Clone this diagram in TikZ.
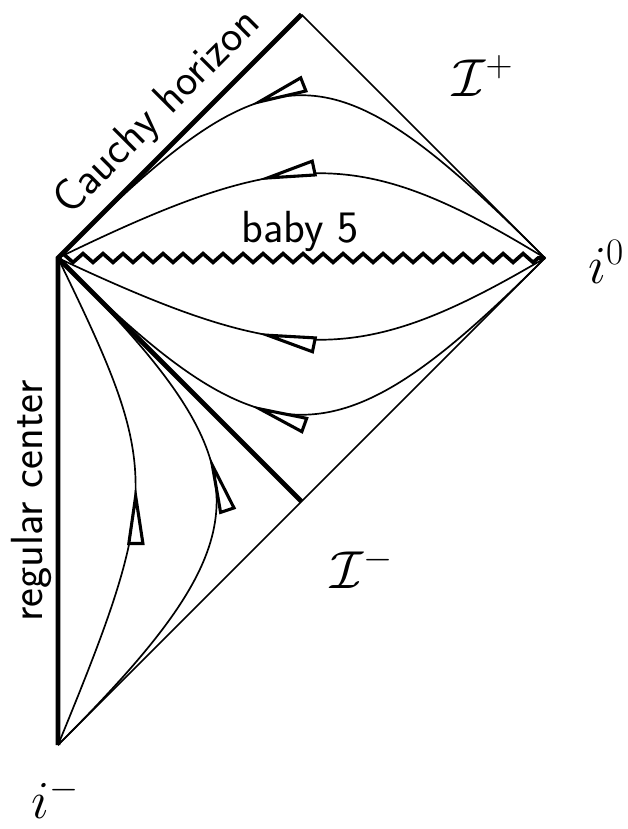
\RequirePackage{fix-cm}
\documentclass[tikz,border=0pt]{standalone}
\usetikzlibrary{arrows.meta,decorations.markings,decorations.pathmorphing}
\tikzset{
  lbl/.style={font=\fontsize{32}{34}\selectfont\sffamily},
  mlbl/.style={font=\fontsize{38}{40}\selectfont},
  ray/.style={line width=1.2pt,postaction={decorate},
    decoration={markings,mark=at position #1 with
      {\arrow{Triangle[length=1.5cm,width=0.42cm,fill=white,line width=2.2pt]}}}},
}
\begin{document}
\begin{tikzpicture}[x=0.025cm,y=-0.025cm]
  \useasboundingbox (0,0) rectangle (628,829);
  \coordinate (top) at (301.5,14.5);
  \coordinate (left) at (58,258);
  \coordinate (right) at (545,258);
  \coordinate (bottom) at (58,745);
  \coordinate (mid) at (301.5,501.5);
  % boundary of the diagram
  \draw[line width=1.2pt] (top) -- (right) -- (bottom);
  \draw[line width=3.4pt] (bottom) -- (left) -- (top);
  \draw[line width=3.4pt] (left) -- (mid);
  \draw[line width=2.6pt,decorate,
    decoration={zigzag,segment length=0.5cm,amplitude=0.11cm}] (left) -- (right);
  % rays above and below the singularity
  \draw[ray=0.59] (right) .. controls (328,41) and (275,41) .. (left);
  \draw[ray=0.59] (right) .. controls (360,145) and (290,145) .. (left);
  \draw[ray=0.59] (right) .. controls (360,367) and (290,367) .. (left);
  \draw[ray=0.59] (right) .. controls (336,467) and (267,467) .. (left);
  % rays from the bottom
  \draw[ray=0.53] (bottom) .. controls (163,490) and (160,468) .. (left);
  \draw[ray=0.58] (bottom) .. controls (272,531) and (267,467) .. (left);
  % labels
  \node[lbl,rotate=45] (cauchy) at (158,113) {Cauchy horizon};
  \node[lbl,rotate=90] (regular) at (31,501) {regular center};
  \node[lbl] (baby) at (300,231) {baby 5};
  \node[mlbl] (scriplus) at (483,76) {$\mathcal{I}^+$};
  \node[mlbl] (scriminus) at (362,568) {$\mathcal{I}^-$};
  \node[mlbl] (izero) at (606,262) {$i^0$};
  \node[mlbl] (iminus) at (55,798) {$i^-$};
\end{tikzpicture}
\end{document}
